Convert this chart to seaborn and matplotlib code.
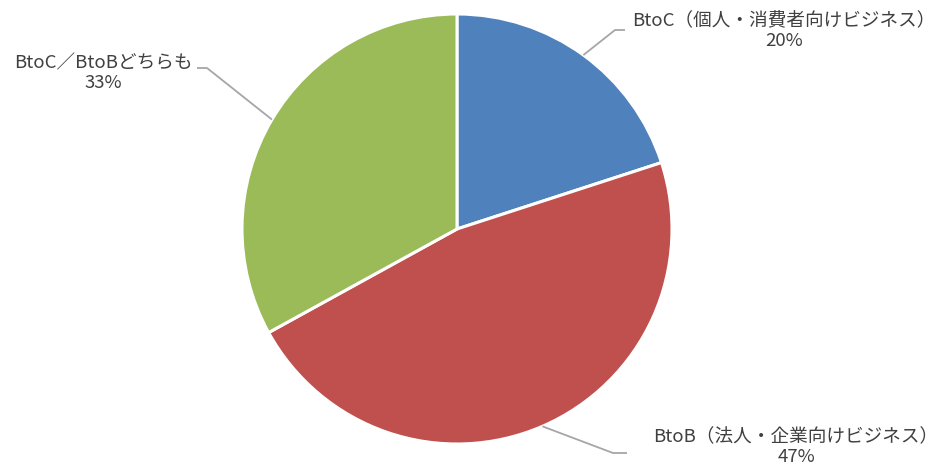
import numpy as np
import matplotlib
matplotlib.use("Agg")
import matplotlib.pyplot as plt
import seaborn as sns

# Business type breakdown
categories = ["BtoC（個人・消費者向けビジネス）", "BtoB（法人・企業向けビジネス）", "BtoC／BtoBどちらも"]
shares = [20, 47, 33]
colors = ["#4F81BD", "#C0504D", "#9BBB59"]

sns.set_theme(style="white")
plt.rcParams["font.family"] = ["Noto Sans CJK JP", "DejaVu Sans"]

W, H, DPI = 938, 465, 100
fig = plt.figure(figsize=(W / DPI, H / DPI), dpi=DPI)

# Pie centre and radius in pixels
cx, cy, R = 457, 229, 215
ax = fig.add_axes([(cx - R) / W, (H - cy - R) / H, 2 * R / W, 2 * R / H])

wedges, _ = ax.pie(
    shares, colors=colors, startangle=90, counterclock=False, radius=1,
    wedgeprops=dict(edgecolor="white", linewidth=2.2),
)
ax.set_xlim(-1, 1)
ax.set_ylim(-1, 1)
ax.set_aspect("equal")
ax.axis("off")


def px(x, y):
    """Convert figure pixel coordinates into pie data coordinates."""
    return (x - cx) / R, (cy - y) / R


# Leader lines: elbow/end points and label centres in pixels
label_layout = [
    dict(elbow=(615, 30), end=(625, 30), text=(784, 31)),
    dict(elbow=(613, 453), end=(627, 453), text=(796, 447)),
    dict(elbow=(207, 68), end=(197, 68), text=(103, 73)),
]

line_color = "#A6A6A6"
text_color = "#404040"
for w, cat, val, lay in zip(wedges, categories, shares, label_layout):
    mid = np.deg2rad((w.theta1 + w.theta2) / 2)
    start = (np.cos(mid), np.sin(mid))
    ex, ey = px(*lay["elbow"])
    nx, ny = px(*lay["end"])
    ax.plot([start[0], ex, nx], [start[1], ey, ny], color=line_color,
            linewidth=1.3, clip_on=False, solid_capstyle="butt")
    tx, ty = px(*lay["text"])
    ax.text(tx, ty, f"{cat}\n{val}%", ha="center", va="center",
            fontsize=13.4, color=text_color, linespacing=1.1, clip_on=False)

fig.savefig("out.png", dpi=DPI)
